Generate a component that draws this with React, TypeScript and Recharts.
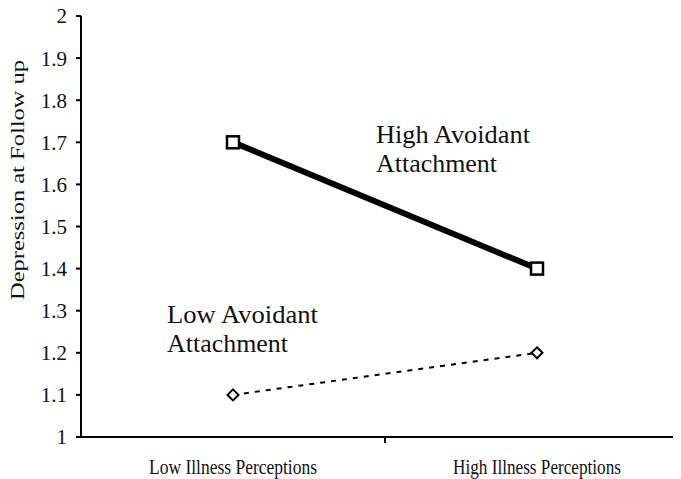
import React from "react";
import { LineChart, Line, XAxis, YAxis } from "recharts";

const categories = ["Low Illness Perceptions", "High Illness Perceptions"];
const highAvoidant = [1.7, 1.4];
const lowAvoidant = [1.1, 1.2];
const yTicks = [1, 1.1, 1.2, 1.3, 1.4, 1.5, 1.6, 1.7, 1.8, 1.9, 2];

const data = categories.map((name, i) => ({
  name,
  high: highAvoidant[i],
  low: lowAvoidant[i],
}));

const FONT = "'Liberation Serif', 'Times New Roman', serif";

const SquareDot = (props: any) => {
  const { cx, cy } = props;
  if (cx == null || cy == null) return null;
  return (
    <rect x={cx - 6} y={cy - 6} width={12} height={12} fill="#fff" stroke="#000" strokeWidth={2.5} />
  );
};

const DiamondDot = (props: any) => {
  const { cx, cy } = props;
  if (cx == null || cy == null) return null;
  return (
    <polygon
      points={`${cx},${cy - 5.5} ${cx + 5.5},${cy} ${cx},${cy + 5.5} ${cx - 5.5},${cy}`}
      fill="#fff"
      stroke="#000"
      strokeWidth={2}
    />
  );
};

const XTick = (props: any) => {
  const { x, y, payload, index } = props;
  const half = payload && payload.offset ? payload.offset : 152;
  const axisY = y - 8;
  return (
    <g>
      {index === 0 && (
        <line x1={x + half} x2={x + half} y1={axisY} y2={axisY + 6} stroke="#000" strokeWidth={2} />
      )}
      <text
        x={x}
        y={y + 29}
        textAnchor="middle"
        fontFamily={FONT}
        fontSize={21}
        fill="#111"
        textLength={168}
        lengthAdjust="spacingAndGlyphs"
      >
        {payload.value}
      </text>
    </g>
  );
};

export default function App() {
  // chart is a bit wider than the window so the x axis runs off the right edge
  return (
    <div style={{ width: 673, height: 479, overflow: "hidden", marginTop: -8 }}>
      <LineChart
        width={690}
        height={479}
        data={data}
        margin={{ top: 16, right: 9, bottom: 0, left: 0 }}
      >
        <XAxis
          dataKey="name"
          scale="band"
          height={42}
          axisLine={{ stroke: "#000", strokeWidth: 2 }}
          tickLine={false}
          tickSize={6}
          tickMargin={2}
          tick={<XTick />}
          interval={0}
        />
        <YAxis
          width={73}
          domain={[1, 2]}
          ticks={yTicks}
          interval={0}
          axisLine={{ stroke: "#000", strokeWidth: 2 }}
          tickLine={{ stroke: "#000", strokeWidth: 2 }}
          tickSize={5}
          tickMargin={9}
          tick={{ fontFamily: FONT, fontSize: 21, fill: "#111" }}
        />
        <Line
          dataKey="high"
          stroke="#000"
          strokeWidth={6}
          dot={<SquareDot />}
          activeDot={false}
          isAnimationActive={false}
        />
        <Line
          dataKey="low"
          stroke="#000"
          strokeWidth={2}
          strokeDasharray="5 6"
          dot={<DiamondDot />}
          activeDot={false}
          isAnimationActive={false}
        />
        <text
          transform="translate(16, 180) rotate(-90)"
          textAnchor="middle"
          fontFamily={FONT}
          fontSize={19}
          fill="#111"
          textLength={240}
          lengthAdjust="spacingAndGlyphs"
        >
          Depression at Follow up
        </text>
        <text fontFamily={FONT} fontSize={25} fill="#111">
          <tspan x={368} y={143} textLength={154} lengthAdjust="spacingAndGlyphs">High Avoidant</tspan>
          <tspan x={368} y={172} textLength={121} lengthAdjust="spacingAndGlyphs">Attachment</tspan>
        </text>
        <text fontFamily={FONT} fontSize={25} fill="#111">
          <tspan x={159} y={323} textLength={151} lengthAdjust="spacingAndGlyphs">Low Avoidant</tspan>
          <tspan x={159} y={352} textLength={121} lengthAdjust="spacingAndGlyphs">Attachment</tspan>
        </text>
      </LineChart>
    </div>
  );
}
